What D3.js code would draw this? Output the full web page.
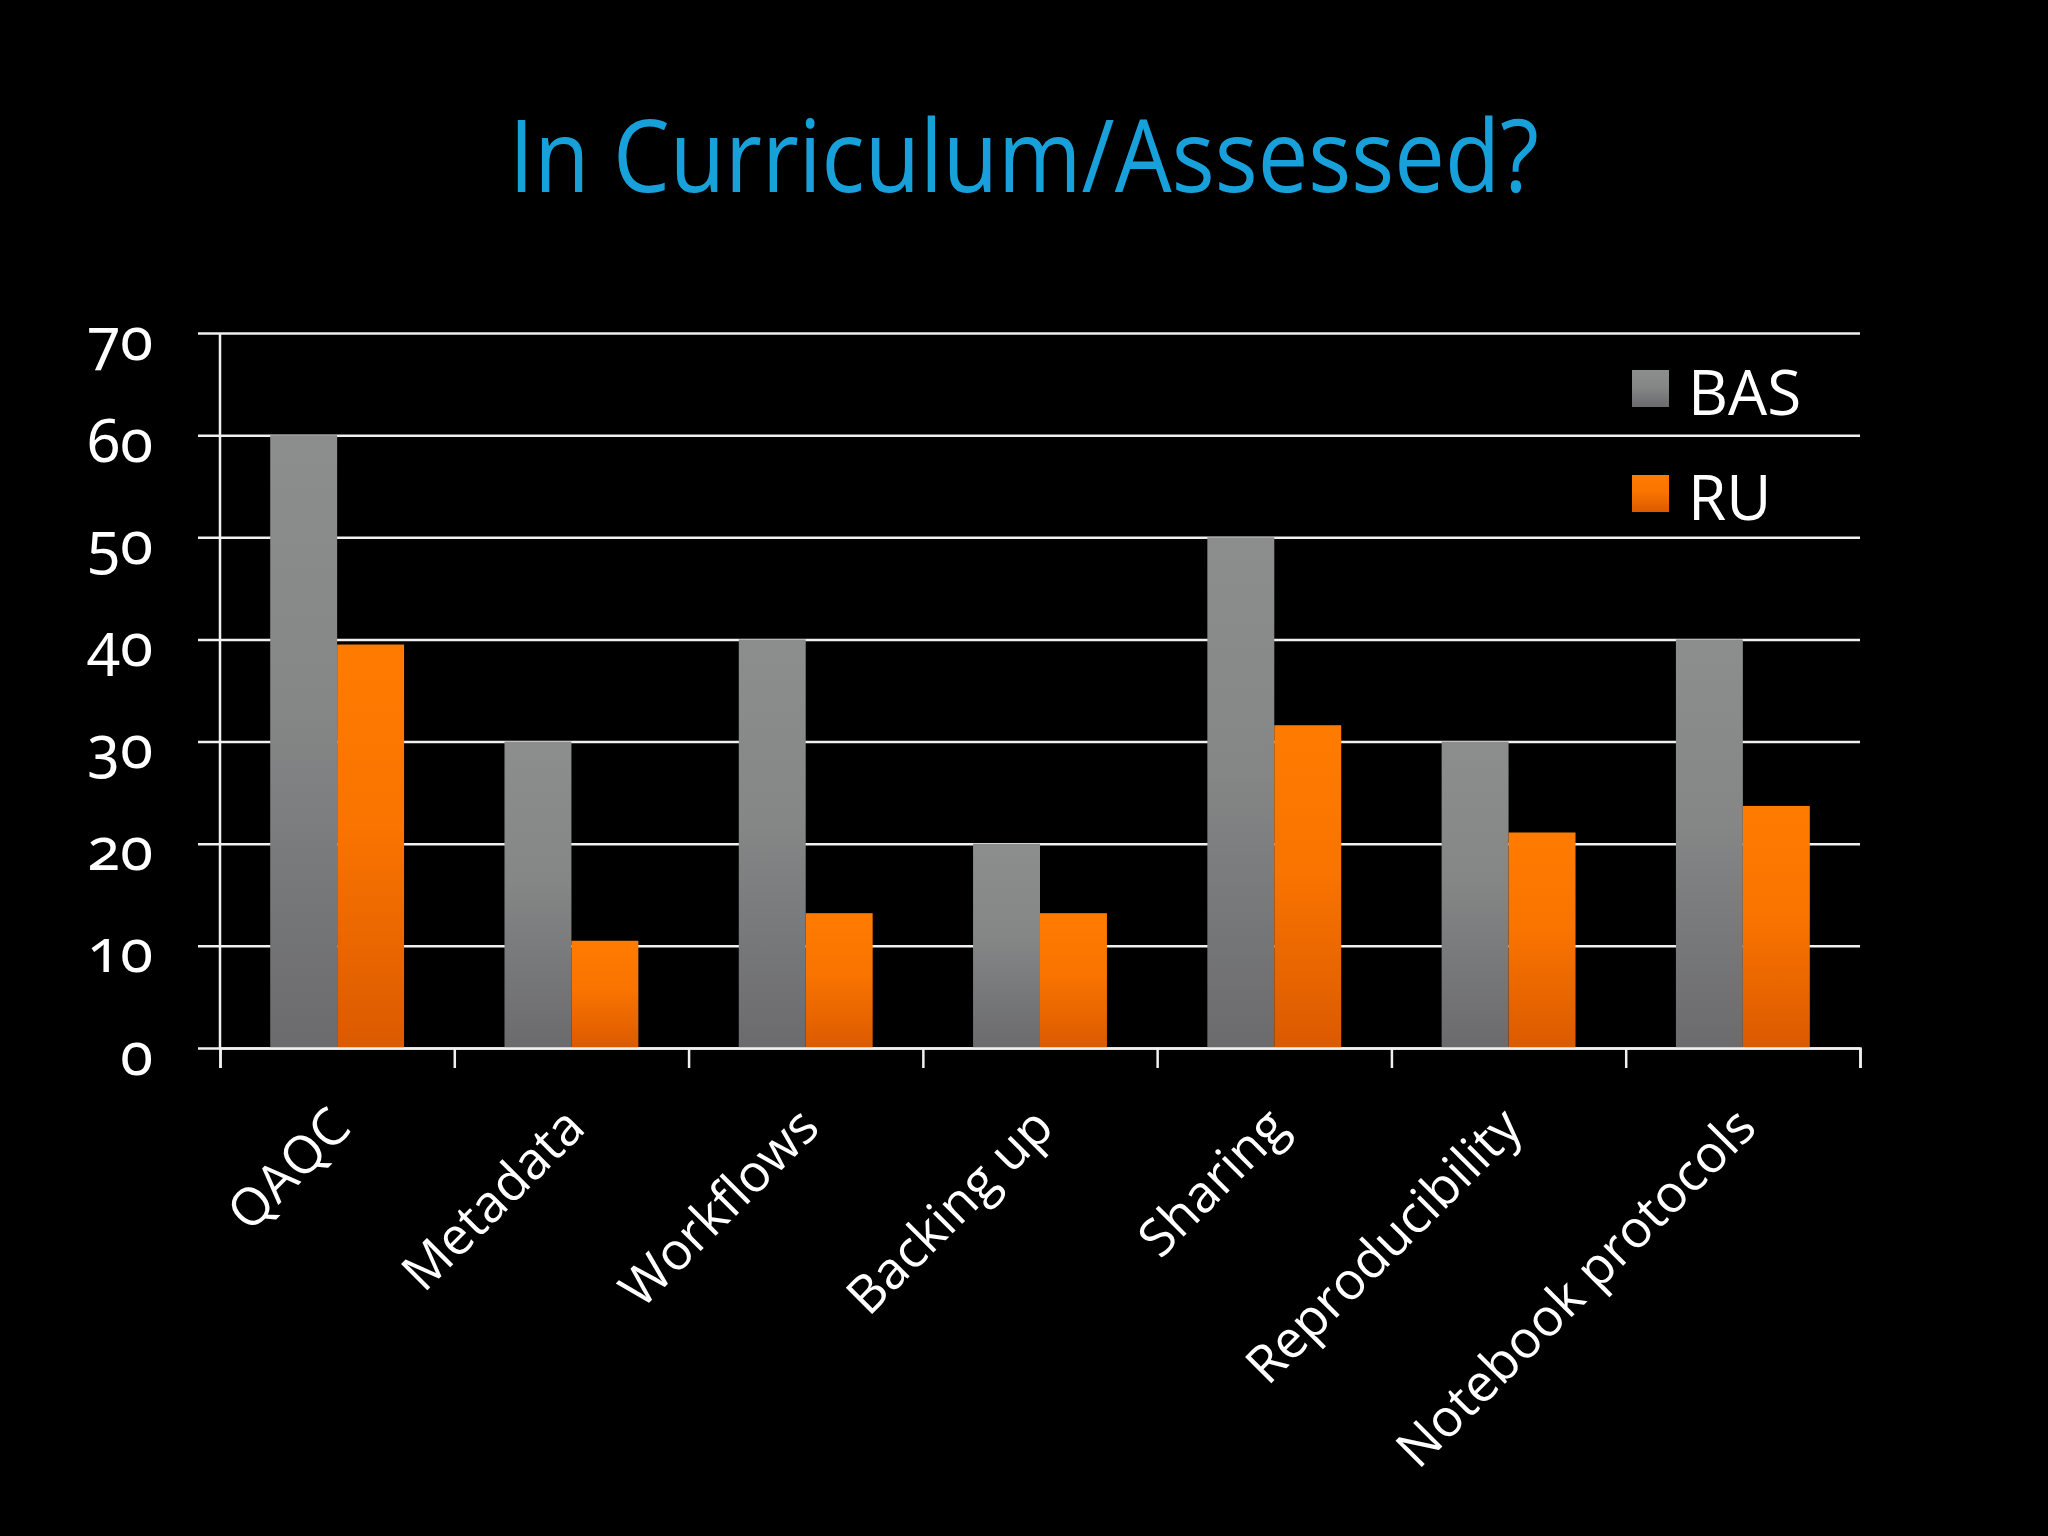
<!DOCTYPE html>
<html>
<head>
<meta charset="utf-8">
<script src="https://cdn.jsdelivr.net/npm/d3@7"></script>
<style>
  body { margin: 0; background: #000; }
  svg { display: block; }
</style>
</head>
<body>
<script>
// data
var categories = ["QAQC", "Metadata", "Workflows", "Backing up", "Sharing", "Reproducibility", "Notebook protocols"];
var seriesNames = ["BAS", "RU"];
var basValues = [60, 30, 40, 20, 50, 30, 40];
var ruValues = [39.5, 10.5, 13.2, 13.2, 31.6, 21.1, 23.7];
var yTicks = [0, 10, 20, 30, 40, 50, 60, 70];

// settings for canvas
var settings = {
    width: 2048,
    height: 1536,
    left: 220,
    right: 1860,
    top: 333,
    bottom: 1048
}

var rows = categories.map((c, i) => { return {cat: c, BAS: basValues[i], RU: ruValues[i]}; });

var svg = d3.select("body").append("svg")
    .attr("width", settings.width)
    .attr("height", settings.height)
    .style("background", "#000");

// gradients for the bars
var defs = svg.append("defs");
var grads = {
    BAS: [["0%", "#8c8d8d"], ["45%", "#858686"], ["100%", "#6b6b6e"]],
    RU: [["0%", "#ff7b00"], ["45%", "#f97400"], ["100%", "#dc5a00"]]
};
seriesNames.forEach((s) => {
    var g = defs.append("linearGradient").attr("id", "g" + s)
        .attr("x1", 0).attr("y1", 0).attr("x2", 0).attr("y2", 1);
    grads[s].forEach((st) => { g.append("stop").attr("offset", st[0]).attr("stop-color", st[1]); });
});

// scales
var x0 = d3.scaleBand().domain(categories).range([settings.left, settings.right]).padding(0);
var x1 = d3.scaleBand().domain(seriesNames).range([0, x0.bandwidth()]).paddingInner(0).paddingOuter(0.75);
var y = d3.scaleLinear().domain([0, 70]).range([settings.bottom, settings.top]);
var xb = d3.scaleLinear().domain([0, categories.length]).range([settings.left, settings.right]);

// title
svg.append("text")
    .attr("x", 1024).attr("y", 192)
    .attr("text-anchor", "middle")
    .attr("textLength", 1030).attr("lengthAdjust", "spacingAndGlyphs")
    .style("font-family", "'Open Sans', sans-serif")
    .style("font-size", "100px")
    .style("fill", "#17a0da")
    .text("In Curriculum/Assessed?");

// y axis with gridlines
var yAxis = svg.append("g")
    .attr("transform", "translate(" + settings.left + ",0)")
    .call(d3.axisLeft(y).tickValues(yTicks).tickSize(-(settings.right - settings.left)).tickPadding(0));
yAxis.select(".domain").remove();
yAxis.selectAll(".tick line")
    .attr("x1", -22)
    .attr("stroke", "#f0f0f0").attr("stroke-width", 2.5);
yAxis.selectAll(".tick text")
    .attr("x", -67).attr("dy", 26)
    .attr("text-anchor", "end")
    .style("font-family", "'Noto Sans', sans-serif")
    .style("font-feature-settings", "'onum'")
    .style("font-size", "60px")
    .style("fill", "#fff");

// bars
var group = svg.append("g").selectAll("g")
    .data(rows)
    .enter().append("g")
    .attr("transform", (d) => { return "translate(" + x0(d.cat) + ",0)"; });

group.selectAll("rect")
    .data((d) => { return seriesNames.map((s) => { return {key: s, value: d[s]}; }); })
    .enter().append("rect")
    .attr("x", (d) => { return x1(d.key); })
    .attr("y", (d) => { return y(d.value); })
    .attr("width", x1.bandwidth())
    .attr("height", (d) => { return y(0) - y(d.value); })
    .attr("fill", (d) => { return "url(#g" + d.key + ")"; });

// vertical axis line
svg.append("line")
    .attr("x1", settings.left).attr("x2", settings.left)
    .attr("y1", settings.top).attr("y2", settings.bottom)
    .attr("stroke", "#f0f0f0").attr("stroke-width", 2.5);

// x axis ticks at category boundaries
var xTicks = svg.append("g")
    .attr("transform", "translate(0," + settings.bottom + ")")
    .call(d3.axisBottom(xb).ticks(categories.length).tickSize(20).tickFormat(""));
xTicks.select(".domain").attr("stroke", "#f0f0f0").attr("stroke-width", 2.5);
xTicks.selectAll(".tick line").attr("stroke", "#f0f0f0").attr("stroke-width", 2.5);

// category labels, rotated
var xLabels = svg.append("g")
    .attr("transform", "translate(0," + settings.bottom + ")")
    .call(d3.axisBottom(x0).tickSize(0));
xLabels.select(".domain").remove();
xLabels.selectAll(".tick text")
    .attr("y", 0).attr("dy", 0)
    .attr("text-anchor", "end")
    .attr("transform", "translate(16,82) rotate(-45)")
    .style("font-family", "'Open Sans', sans-serif")
    .style("font-size", "52px")
    .style("fill", "#fff");

// legend
var legend = svg.append("g").selectAll("g")
    .data(seriesNames)
    .enter().append("g")
    .attr("transform", (d, i) => { return "translate(1632," + (370 + i * 105) + ")"; });
legend.append("rect")
    .attr("width", 37).attr("height", 37)
    .attr("fill", (d) => { return "url(#g" + d + ")"; });
legend.append("text")
    .attr("x", 56).attr("y", 45)
    .style("font-family", "'Open Sans', sans-serif")
    .style("font-size", "62px")
    .style("fill", "#fff")
    .text((d) => { return d; });
</script>
</body>
</html>
